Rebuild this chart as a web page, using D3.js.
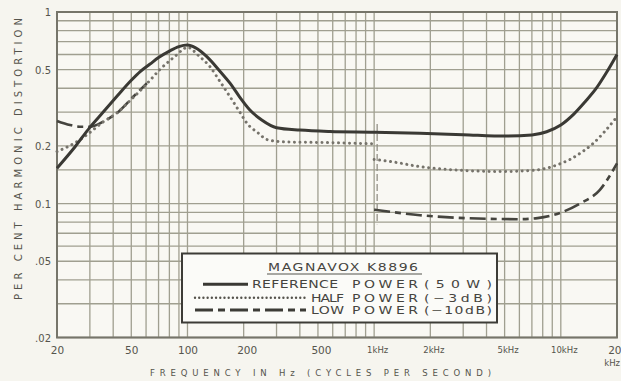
<!DOCTYPE html>
<html><head><meta charset="utf-8">
<script src="https://cdn.jsdelivr.net/npm/d3@7/dist/d3.min.js"></script>
<style>
html,body{margin:0;padding:0;background:#f6f5ef;}
svg{display:block;font-family:"DejaVu Sans",sans-serif;}
</style></head><body>
<svg id="c" width="621" height="381"></svg>
<script>
// ---------- data ----------
const refFreq  = [20, 25, 30, 35, 42, 50, 56, 63, 70, 80, 90, 100, 110, 127, 150, 169, 190, 216, 250, 300, 400, 580, 1000, 1760, 3000, 5100, 7000, 8400, 10000, 11700, 13500, 15500, 17500, 20000];
const refValue = [0.153, 0.198, 0.25, 0.297, 0.364, 0.44, 0.49, 0.535, 0.578, 0.625, 0.66, 0.672, 0.652, 0.585, 0.488, 0.425, 0.361, 0.308, 0.273, 0.249, 0.242, 0.238, 0.236, 0.233, 0.229, 0.225, 0.228, 0.237, 0.257, 0.292, 0.34, 0.4, 0.48, 0.6];

const halfFreq  = [20, 26.5, 30, 35, 42, 50, 56, 63, 71, 80, 88, 95, 100, 115, 132, 150, 169, 190, 208, 240, 266, 330, 580, 1000, 1000, 1000, 1215, 1760, 2650, 4900, 7000, 8400, 10000, 11200, 13000, 14900, 17000, 20000];
const halfValue = [0.187, 0.215, 0.235, 0.265, 0.298, 0.35, 0.39, 0.44, 0.5, 0.555, 0.6, 0.64, 0.655, 0.59, 0.518, 0.431, 0.361, 0.302, 0.263, 0.233, 0.216, 0.21, 0.208, 0.205, null, 0.17, 0.166, 0.156, 0.15, 0.147, 0.149, 0.153, 0.162, 0.17, 0.186, 0.206, 0.235, 0.284];

const lowFreq  = [20, 23.5, 26.5, 30, 35.4, 41.7, 51.2, 60.6, 1000, 1000, 1760, 3260, 6040, 7500, 9100, 12650, 16200, 20000];
const lowValue = [0.27, 0.257, 0.252, 0.252, 0.268, 0.296, 0.361, 0.425, null, 0.093, 0.087, 0.0838, 0.0829, 0.084, 0.0871, 0.1, 0.118, 0.162];

const switchFreq  = 1000;          // range switch marker
const switchRange = [0.26, 0.078];

const xTickValues = [20, 50, 100, 200, 500, 1000, 2000, 5000, 10000, 20000];
const xTickLabels = ["20", "50", "100", "200", "500", "1kHz", "2kHz", "5kHz", "10kHz", "20"];
const yTickValues = [1, 0.5, 0.2, 0.1, 0.05, 0.02];
const yTickLabels = ["1", "0.5", "0.2", "0.1", ".05", ".02"];
const extraYGrid  = [0.15];

const legendTitle  = "MAGNAVOX K8896";
const legendNames  = ["REFERENCE", "HALF", "LOW"];
const legendSuffix = ["(50W)", "(\u22123dB)", "(\u221210dB)"];

// ---------- drawing ----------
const svg = d3.select("#c");
const x = d3.scaleLog().domain([20, 20000]).range([57, 617]);
const y = d3.scaleLog().domain([0.02, 1]).range([337.5, 12]);

const ink = "#3a3934", gridCol = "#a09f90", label = "#55544c", lgInk = "#45443e";

svg.append("rect").attr("width", 621).attr("height", 381).attr("fill", "#f6f5ef");
svg.append("rect").attr("x", x.range()[0]).attr("y", y.range()[1])
  .attr("width", x.range()[1] - x.range()[0]).attr("height", y.range()[0] - y.range()[1])
  .attr("fill", "#f9f8f3");

const grid = svg.append("g").attr("stroke", gridCol).attr("stroke-width", 1.3);
grid.selectAll("line.v").data(x.ticks()).join("line")
  .attr("x1", d => x(d)).attr("x2", d => x(d)).attr("y1", y.range()[1]).attr("y2", y.range()[0]);
grid.selectAll("line.h").data(y.ticks().concat(extraYGrid)).join("line")
  .attr("y1", d => y(d)).attr("y2", d => y(d)).attr("x1", x.range()[0]).attr("x2", x.range()[1]);

svg.append("rect").attr("x", x.range()[0]).attr("y", y.range()[1])
  .attr("width", x.range()[1] - x.range()[0]).attr("height", y.range()[0] - y.range()[1])
  .attr("fill", "none").attr("stroke", "#76756a").attr("stroke-width", 2);

// range switch marker
svg.append("line").attr("x1", x(switchFreq) + 3).attr("x2", x(switchFreq) + 3)
  .attr("y1", y(switchRange[0])).attr("y2", y(switchRange[1]))
  .attr("stroke", "#8a897e").attr("stroke-width", 1.2).attr("stroke-dasharray", "7 3");

// curves
const mk = (f, v) => f.map((d, i) => ({f: d, v: v[i]}));
const line = d3.line().defined(d => d.v != null).x(d => x(d.f)).y(d => y(d.v)).curve(d3.curveMonotoneX);

svg.append("path").datum(mk(lowFreq, lowValue)).attr("d", line)
  .attr("fill", "none").attr("stroke", "#45443e").attr("stroke-width", 2.6)
  .attr("stroke-dasharray", "16 5 6 5");
svg.append("path").datum(mk(halfFreq, halfValue)).attr("d", line)
  .attr("fill", "none").attr("stroke", "#76736b").attr("stroke-width", 3)
  .attr("stroke-linecap", "round").attr("stroke-dasharray", "0.01 5.5");
svg.append("path").datum(mk(refFreq, refValue)).attr("d", line)
  .attr("fill", "none").attr("stroke", ink).attr("stroke-width", 3);

// y axis labels
const yAxis = d3.axisLeft(y).tickValues(yTickValues).tickSize(0).tickPadding(6)
  .tickFormat((d, i) => yTickLabels[i]);
const gy = svg.append("g").attr("transform", `translate(${x.range()[0]},0)`).call(yAxis);
gy.select(".domain").remove();
gy.selectAll("text").attr("fill", label).attr("font-size", 10).attr("font-family", "DejaVu Sans")
  .attr("dy", "0.35em");

// x axis labels
const xAxis = d3.axisBottom(x).tickValues(xTickValues).tickSize(0).tickPadding(9)
  .tickFormat((d, i) => xTickLabels[i]);
const gx = svg.append("g").attr("transform", `translate(0,${y.range()[0]})`).call(xAxis);
gx.select(".domain").remove();
gx.selectAll("text").attr("fill", label).attr("font-family", "DejaVu Sans")
  .attr("font-size", (d, i) => /k/.test(xTickLabels[i]) ? 8.5 : 10.5)
  .attr("dx", (d, i) => (d >= 200 && d < 20000) ? 3 : 0)
  .attr("text-anchor", (d, i) => i === xTickValues.length - 1 ? "end" : "middle")
  .attr("x", (d, i) => i === xTickValues.length - 1 ? 621 - x(d) : 0);
svg.append("text").attr("x", 620).attr("y", 366).attr("text-anchor", "end")
  .attr("font-size", 8.5).attr("fill", label).text("kHz");

// axis titles
svg.append("text").attr("x", 150).attr("y", 376).attr("font-size", 8.5).attr("fill", label)
  .attr("textLength", 341).attr("lengthAdjust", "spacing")
  .text("FREQUENCY IN Hz (CYCLES PER SECOND)");
svg.append("text").attr("transform", "translate(22,300) rotate(-90)")
  .attr("font-size", 10).attr("fill", label)
  .attr("textLength", 282).attr("lengthAdjust", "spacing")
  .text("PER CENT HARMONIC DISTORTION");

// legend
const lg = svg.append("g");
lg.append("rect").attr("x", 182).attr("y", 253.5).attr("width", 315).attr("height", 69)
  .attr("fill", "#fbfbf8").attr("stroke", "#3d3c37").attr("stroke-width", 2);
// extended lettering: uniform horizontal stretch, remaining width taken up by spacing
const stretch = 1.4;
const wideText = (g, tx, ty, len, str) => g.append("text")
  .attr("x", 0).attr("y", 0).attr("font-size", 10).attr("fill", lgInk)
  .attr("textLength", len / stretch).attr("lengthAdjust", "spacing")
  .attr("transform", `translate(${tx},${ty}) scale(${stretch},1)`).text(str);

wideText(lg, 268, 270.5, 150, legendTitle);
lg.append("line").attr("x1", 267).attr("x2", 422).attr("y1", 274).attr("y2", 274)
  .attr("stroke", "#55544c").attr("stroke-width", 1.2);

const rowY = [288.3, 301.7, 314];
const sampleX = [[203, 248], [195, 306], [195, 306]];
const nameX = [[252, 86], [311, 33], [311, 33]];
const sampleStyle = [
  {stroke: ink, w: 3, dash: null, cap: "butt"},
  {stroke: "#55534c", w: 2.4, dash: "0.01 4.2", cap: "round"},
  {stroke: "#3d3c37", w: 2.8, dash: "18 5 7 5", cap: "butt"}
];
legendNames.forEach((nm, i) => {
  const s = sampleStyle[i];
  lg.append("line").attr("x1", sampleX[i][0]).attr("x2", sampleX[i][1])
    .attr("y1", rowY[i] - 4).attr("y2", rowY[i] - 4)
    .attr("stroke", s.stroke).attr("stroke-width", s.w)
    .attr("stroke-dasharray", s.dash).attr("stroke-linecap", s.cap);
  wideText(lg, nameX[i][0], rowY[i], nameX[i][1], nm);
  wideText(lg, 352, rowY[i], 66, "POWER");
  wideText(lg, 424, rowY[i], i === 0 ? 68 : 68, legendSuffix[i]);
});
</script>
</body></html>
